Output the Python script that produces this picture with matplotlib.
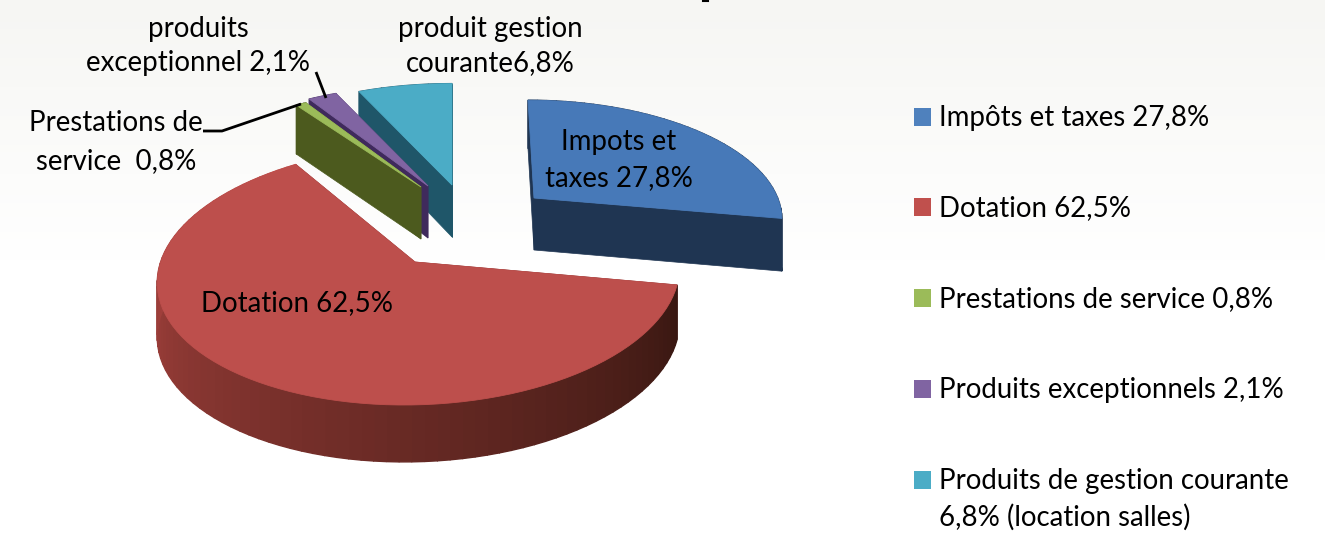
import numpy as np
import matplotlib
matplotlib.use('Agg')
import matplotlib.pyplot as plt
from matplotlib.colors import to_rgb

plt.rcParams['font.family'] = ['Lato', 'DejaVu Sans']

# chart values
slices = ['Impots et taxes', 'Dotation', 'Prestations de service', 'Produits exceptionnels', 'Produits de gestion courante']
values = [27.8, 62.5, 0.8, 2.1, 6.8]
legend_labels = ['Impôts et taxes 27,8%', 'Dotation 62,5%', 'Prestations de service 0,8%',
                 'Produits exceptionnels 2,1%', 'Produits de gestion courante\n6,8% (location salles)']
top_colors = ['#4779b8', '#bd4f4c', '#9bbb59', '#8064a2', '#4bacc6']
legend_colors = ['#4f81bd', '#c0504d', '#9bbb59', '#8064a2', '#4bacc6']
cut_colors = ['#1f3552', '#7d2f2d', '#4c5a1e', '#3f2a5c', '#1f5669']
# colours of the outer wall, start and end of the arc
wall_colors = [('#1f3552', '#1f3552'), ('#381711', '#c04c48'), ('#4c5a1e', '#4c5a1e'),
               ('#3f2a5c', '#3f2a5c'), ('#1f5669', '#1f5669')]
apex_x = [534, 415, 421, 428, 452]
apex_y = [198, 262, 187, 186, 185]
radius_scale = [0.93, 0.99, 0.94, 0.97, 0.98]
ry_list = [122, 130, 120, 120, 120]
persp_list = [0.16, 0.10, 0.16, 0.16, 0.16]
shear_list = [-6, 16, 0, 0, 0]
rim_dx = [0, 5, 0, 0, 0]
depth_list = [52, 54, 52, 52, 52]
draw_order = [4, 3, 2, 0, 1]

R = 262


def project(i, ang):
    # ang is clockwise from 12 o'clock, in degrees
    a = np.radians(ang)
    X = np.sin(a)
    Y = np.cos(a)
    s = 1 / (1 + persp_list[i] * Y)
    px = apex_x[i] + rim_dx[i] + radius_scale[i] * R * X * s + shear_list[i] * Y
    py = apex_y[i] - radius_scale[i] * ry_list[i] * Y * s
    return px, py, depth_list[i] * np.sqrt(s)


fig = plt.figure(figsize=(13.25, 5.34), dpi=100)
ax = fig.add_axes([0, 0, 1, 1])

# pale grey wash behind everything
bg = np.ones((534, 1, 3))
fade = np.clip(1 - np.arange(534) / 260, 0, 1)
for c, tone in enumerate(to_rgb('#f6f6f3')):
    bg[:, 0, c] = 1 - (1 - tone) * fade
ax.imshow(bg, extent=(0, 1325, 534, 0), aspect='auto', zorder=0)

edges = np.concatenate([[0], np.cumsum(values)]) * 3.6

z = 2
for i in draw_order:
    a0, a1 = edges[i], edges[i + 1]
    angs = np.linspace(a0, a1, max(int((a1 - a0) / 2.5), 6))
    px, py, dep = project(i, angs)
    ax_, ay_ = apex_x[i], apex_y[i]

    # the two cut faces
    for k in [0, -1]:
        ax.fill([ax_, px[k], px[k], ax_], [ay_, py[k], py[k] + dep[k], ay_ + depth_list[i]],
                color=cut_colors[i], lw=0.5, zorder=z)
    # outer wall, in strips for the shading
    c0 = np.array(to_rgb(wall_colors[i][0]))
    c1 = np.array(to_rgb(wall_colors[i][1]))
    for k in range(len(angs) - 1):
        t = k / (len(angs) - 2)
        ax.fill([px[k], px[k + 1], px[k + 1], px[k]],
                [py[k], py[k + 1], py[k + 1] + dep[k + 1], py[k] + dep[k]],
                color=c0 + (c1 - c0) * t, lw=1, zorder=z)
    # top face
    ax.fill(np.r_[ax_, px], np.r_[ay_, py], color=top_colors[i], lw=0.6, zorder=z + 0.5)
    z += 1

# leader lines
ax.plot([203, 222, 301], [131, 131, 104], color='black', lw=2, zorder=20, solid_capstyle='butt')
ax.plot([316, 326], [72, 98], color='black', lw=2, zorder=20, solid_capstyle='butt')
# bottom of a title cut off by the crop
ax.plot([703, 708], [0.5, 0.5], color='black', lw=1.5, zorder=20)

fs = 19.9
for x, y, t, ha in [(198, 29, 'produits', 'center'), (198, 63, 'exceptionnel 2,1%', 'center'),
                    (490, 29, 'produit gestion', 'center'), (490, 63, 'courante6,8%', 'center'),
                    (203, 123, 'Prestations de', 'right'), (116, 161, 'service  0,8%', 'center'),
                    (619, 142, 'Impots et', 'center'), (619, 178, 'taxes 27,8%', 'center'),
                    (297, 303, 'Dotation 62,5%', 'center')]:
    ax.text(x, y, t, ha=ha, va='center', fontsize=fs, color='black', zorder=30)

# legend
leg_y = [117, 207, 298, 389, 480]
ax.scatter([922.5] * 5, leg_y, marker='s', s=150, c=legend_colors, linewidths=0, zorder=30)
for y, lab in zip(leg_y, legend_labels):
    lines = lab.split('\n')
    for n, line in enumerate(lines):
        ax.text(939, y + 1 + n * 36.5, line, ha='left', va='center', fontsize=fs, color='black', zorder=30)

ax.set_xlim(0, 1325)
ax.set_ylim(534, 0)
ax.axis('off')
fig.savefig('out.png', dpi=100)
